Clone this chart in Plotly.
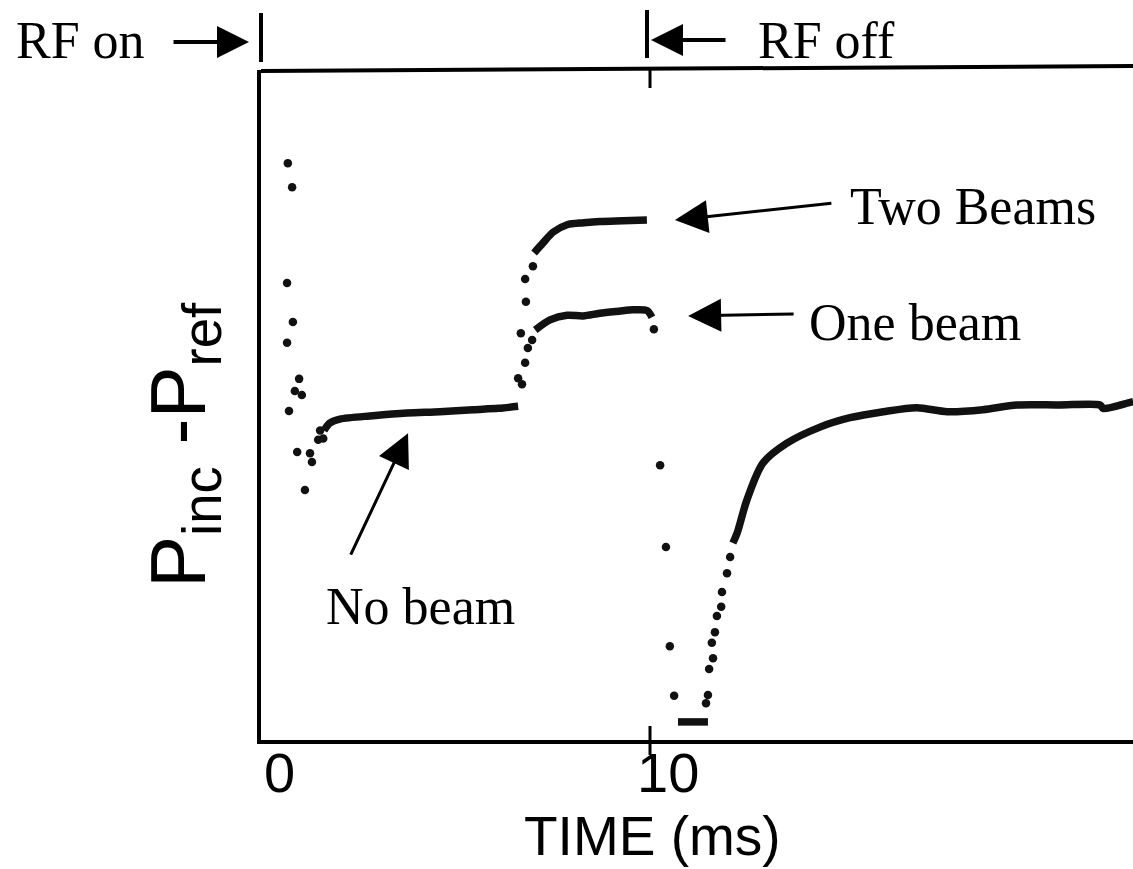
import plotly.graph_objects as go

# ---------------- data (time in ms, signal in arbitrary units) ----------------
early_t = [0.69, 0.80, 0.67, 0.82, 0.67, 0.98, 0.87, 1.05, 0.72, 0.93, 1.26, 1.31, 1.13, 1.47, 1.60, 1.52]
early_y = [8.61, 8.25, 6.82, 6.24, 5.93, 5.39, 5.21, 5.15, 4.91, 4.30, 4.28, 4.15, 3.73, 4.48, 4.50, 4.62]

nobeam_t = [1.62, 1.77, 2.03, 2.88, 3.75, 4.60, 5.45, 6.10, 6.61]
nobeam_y = [4.62, 4.73, 4.79, 4.84, 4.88, 4.90, 4.93, 4.95, 4.98]

one_dots_t = [6.61, 6.71, 6.79, 6.86, 6.97, 10.10]
one_dots_y = [5.40, 5.31, 5.63, 5.85, 5.97, 6.13]
one_t = [7.05, 7.43, 7.87, 8.28, 8.71, 9.20, 9.56, 9.92, 10.05]
one_y = [6.12, 6.27, 6.34, 6.33, 6.37, 6.40, 6.42, 6.41, 6.31]

two_dots_t = [6.68, 6.81, 6.79, 6.99]
two_dots_y = [6.07, 6.54, 6.88, 7.07]
two_t = [7.02, 7.25, 7.51, 7.87, 8.30, 8.71, 9.30, 9.92]
two_y = [7.27, 7.42, 7.58, 7.69, 7.72, 7.74, 7.75, 7.76]

off_dots_t = [10.26, 10.41, 10.51, 10.62]
off_dots_y = [4.10, 2.88, 1.40, 0.66]
floor_t = [10.72, 11.49]
floor_y = [0.27, 0.27]

rec_dots_t = [11.44, 11.49, 11.52, 11.62, 11.59, 11.67, 11.72, 11.83, 11.85, 11.98, 12.06]
rec_dots_y = [0.55, 0.67, 1.06, 1.22, 1.45, 1.61, 1.85, 1.99, 2.21, 2.49, 2.73]
rec_t = [12.13, 12.24, 12.49, 12.90, 13.52, 14.37, 15.14, 16.00, 16.86, 17.64, 18.56, 19.43, 20.50, 21.57, 21.65, 22.34, 22.42]
rec_y = [2.94, 3.09, 3.58, 4.13, 4.43, 4.67, 4.81, 4.90, 4.96, 4.90, 4.93, 5.00, 5.00, 5.00, 4.95, 5.04, 5.05]

tick_vals = [0, 10]
tick_text = ["0", "10"]

# ---------------- figure ----------------
W, H = 1133, 869
L, R, T, B = 261, 0, 70, 129
PX_PER_MS = 38.9
x_max = (W - L - R) / PX_PER_MS

INK = "#111111"

def px2paper_x(px):
    return (px - L) / (W - L - R)

def py2paper_y(py):
    return (H - B - py) / (H - T - B)

fig = go.Figure()

def dense(t, y):
    fig.add_trace(go.Scatter(x=t, y=y, mode="lines",
                             line=dict(color=INK, width=7.5, shape="spline", smoothing=0.8),
                             hoverinfo="skip", showlegend=False))

def dots(t, y):
    fig.add_trace(go.Scatter(x=t, y=y, mode="markers",
                             marker=dict(color=INK, size=8.5),
                             hoverinfo="skip", showlegend=False))

dots(early_t, early_y)
dense(nobeam_t, nobeam_y)
dots(one_dots_t, one_dots_y)
dense(one_t, one_y)
dots(two_dots_t, two_dots_y)
dense(two_t, two_y)
dots(off_dots_t, off_dots_y)
dense(floor_t, floor_y)
dots(rec_dots_t, rec_dots_y)
dense(rec_t, rec_y)

serif = dict(family="Liberation Serif, Times New Roman, serif", size=52, color="black")
sans = "Liberation Sans, Arial, Helvetica, sans-serif"

annotations = []

# text labels
def label(text, px, py):
    annotations.append(dict(text=text, xref="paper", yref="paper",
                            x=px2paper_x(px), y=py2paper_y(py),
                            xanchor="center", yanchor="middle",
                            showarrow=False, font=serif))

label("RF on", 80, 40)
label("RF off", 826, 40)
label("Two Beams", 973, 207)
label("One beam", 915, 322)
label("No beam", 420, 606)

# arrows (head in data coords, tail as pixel offset)
def arrow(x, y, ax, ay, xref="x", yref="y", size=2.0, width=3):
    annotations.append(dict(text="", x=x, y=y, xref=xref, yref=yref,
                            ax=ax, ay=ay, axref="pixel", ayref="pixel",
                            showarrow=True, arrowhead=2, arrowsize=size,
                            arrowwidth=width, arrowcolor="black", standoff=0))

arrow(10.64, 7.76, 158, -17, size=2.2)      # Two Beams
arrow(10.98, 6.33, 107, -2, size=2.2)       # One beam
arrow(3.78, 4.58, -58, 123, size=2.2)       # No beam
arrow(px2paper_x(249), py2paper_y(42), -77, 0, xref="paper", yref="paper", size=1.6, width=4)
arrow(px2paper_x(651), py2paper_y(40), 76, 0, xref="paper", yref="paper", size=1.6, width=4)

# x tick labels (placed under the ticks, slightly to the right as in the original)
for v, txt in zip(tick_vals, tick_text):
    annotations.append(dict(text=txt, xref="x", yref="paper", x=v, y=py2paper_y(773),
                            xshift=18, xanchor="center", yanchor="middle", showarrow=False,
                            font=dict(family=sans, size=56, color="black")))

# y-axis title
annotations.append(dict(text="P<sub>inc</sub> -P<sub>ref</sub>", xref="paper", yref="paper",
                        x=px2paper_x(184), y=py2paper_y(445),
                        xanchor="center", yanchor="middle", textangle=-90,
                        showarrow=False, font=dict(family=sans, size=78, color="black")))

# x-axis title
annotations.append(dict(text="TIME (ms)", xref="paper", yref="paper",
                        x=px2paper_x(652), y=py2paper_y(836),
                        xanchor="center", yanchor="middle",
                        showarrow=False, font=dict(family=sans, size=55, color="black")))

shapes = []
# top border
shapes.append(dict(type="line", xref="paper", yref="paper", x0=0, x1=1,
                   y0=py2paper_y(71), y1=py2paper_y(66), line=dict(color="black", width=4)))
# tick marks at 10 ms (top and bottom)
shapes.append(dict(type="line", xref="x", yref="paper", x0=10, x1=10,
                   y0=py2paper_y(68), y1=py2paper_y(88), line=dict(color="black", width=3)))
shapes.append(dict(type="line", xref="x", yref="paper", x0=10, x1=10,
                   y0=py2paper_y(726), y1=py2paper_y(755), line=dict(color="black", width=3)))
# RF on / RF off bars
shapes.append(dict(type="line", xref="paper", yref="paper", x0=px2paper_x(261), x1=px2paper_x(261),
                   y0=py2paper_y(13), y1=py2paper_y(62), line=dict(color="black", width=4)))
shapes.append(dict(type="line", xref="paper", yref="paper", x0=px2paper_x(647), x1=px2paper_x(647),
                   y0=py2paper_y(10), y1=py2paper_y(58), line=dict(color="black", width=4)))

fig.update_layout(
    width=W, height=H, autosize=False,
    margin=dict(l=L, r=R, t=T, b=B, pad=0),
    paper_bgcolor="white", plot_bgcolor="white",
    annotations=annotations, shapes=shapes,
    xaxis=dict(range=[0, x_max], showgrid=False, zeroline=False,
               showline=True, linecolor="black", linewidth=4,
               showticklabels=False, ticks=""),
    yaxis=dict(range=[0, 10], showgrid=False, zeroline=False,
               showline=True, linecolor="black", linewidth=4,
               showticklabels=False, ticks=""),
)

fig.write_html("out.html", config={"displayModeBar": False, "staticPlot": True},
               post_script="document.body.style.margin='0px';document.body.style.overflow='hidden';")
